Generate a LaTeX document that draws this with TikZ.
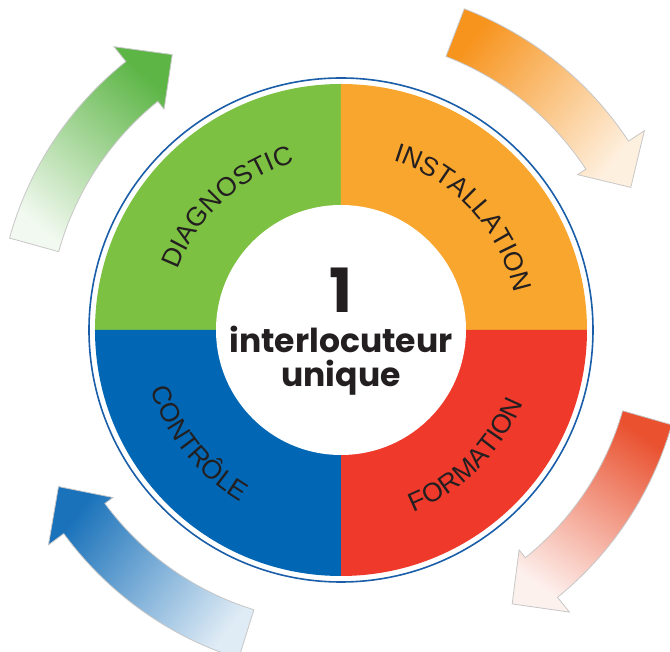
\documentclass[tikz,border=0pt]{standalone}
\usepackage{fontspec}
\usepackage{xcolor}
\usepackage{tikz}
\usetikzlibrary{decorations.text}
\newfontfamily\labelfamily{Liberation Sans}
\newfontfamily\centrefamily{Poppins}
\definecolor{quadgreen}{HTML}{7DC142}
\definecolor{quadorange}{HTML}{F8A62E}
\definecolor{quadred}{HTML}{EE392B}
\definecolor{quadblue}{HTML}{0167B4}
\definecolor{ringblue}{HTML}{1A5DA8}
\definecolor{inkdark}{HTML}{231F20}
\definecolor{arrgreen}{HTML}{5CB545}
\definecolor{arrorange}{HTML}{F7941E}
\definecolor{arrred}{HTML}{E9512F}
\definecolor{arrblue}{HTML}{1A72BA}
\newcommand{\labelfont}{\labelfamily\fontsize{26.5}{26.5}\selectfont\color{inkdark}}
\newcommand{\bentarrow}[4]{\draw[#1] (#2:344pt) arc[start angle=#2, end angle=#3, radius=344pt] -- (#3:363pt) -- (#4:323pt) -- (#3:283pt) -- (#3:293pt) arc[start angle=#3, end angle=#2, radius=293pt] -- cycle;}

\begin{document}
\begin{tikzpicture}[
  arrowline/.style={draw=black!22, line width=0.8pt},
  quadlabel/.style={decorate, decoration={text along path, text align=center, text={|\labelfont|#1}}},
  centretext/.style={anchor=base, text=inkdark, font=\centrefamily\bfseries\fontsize{#1}{#1}\selectfont}]
\useasboundingbox (-341pt,-322pt) rectangle (329pt,330pt);
\fill[quadgreen] (0,0) -- (90:246pt) arc[start angle=90, end angle=180, radius=246pt] -- cycle;
\fill[quadorange] (0,0) -- (0:246pt) arc[start angle=0, end angle=90, radius=246pt] -- cycle;
\fill[quadred] (0,0) -- (-90:246pt) arc[start angle=-90, end angle=0, radius=246pt] -- cycle;
\fill[quadblue] (0,0) -- (180:246pt) arc[start angle=180, end angle=270, radius=246pt] -- cycle;
\fill[white] (0,0) circle[radius=125pt];
\draw[ringblue, line width=1.6pt] (0,0) circle[radius=252pt];
\path[quadlabel=DIAGNOSTIC] (182.6:174pt) arc[start angle=182.6, end angle=82.6, radius=174pt];
\path[quadlabel=INSTALLATION] (92.4:177pt) arc[start angle=92.4, end angle=-7.6, radius=177pt];
\path[quadlabel=FORMATION] (-95:196pt) arc[start angle=-95, end angle=5, radius=196pt];
\path[quadlabel=CONTRÔLE] (168.6:199pt) arc[start angle=168.6, end angle=268.6, radius=199pt];
\node[centretext=61] (one) at (0pt,17pt) {1};
\node[centretext=33] (inter) at (0pt,-23pt) {interlocuteur};
\node[centretext=33] (uniq) at (0pt,-57pt) {unique};
\bentarrow{arrowline, top color=arrgreen, bottom color=arrgreen!8, shading angle=-41}{164.5}{128.7}{121.5}
\bentarrow{arrowline, top color=arrorange, bottom color=arrorange!14, shading angle=51}{69}{33.3}{26.2}
\bentarrow{arrowline, top color=arrred, bottom color=arrred!8, shading angle=-34}{-16}{-51}{-58}
\bentarrow{arrowline, top color=arrblue, bottom color=arrblue!14, shading angle=53}{252.7}{216.3}{209}
\end{tikzpicture}
\end{document}
